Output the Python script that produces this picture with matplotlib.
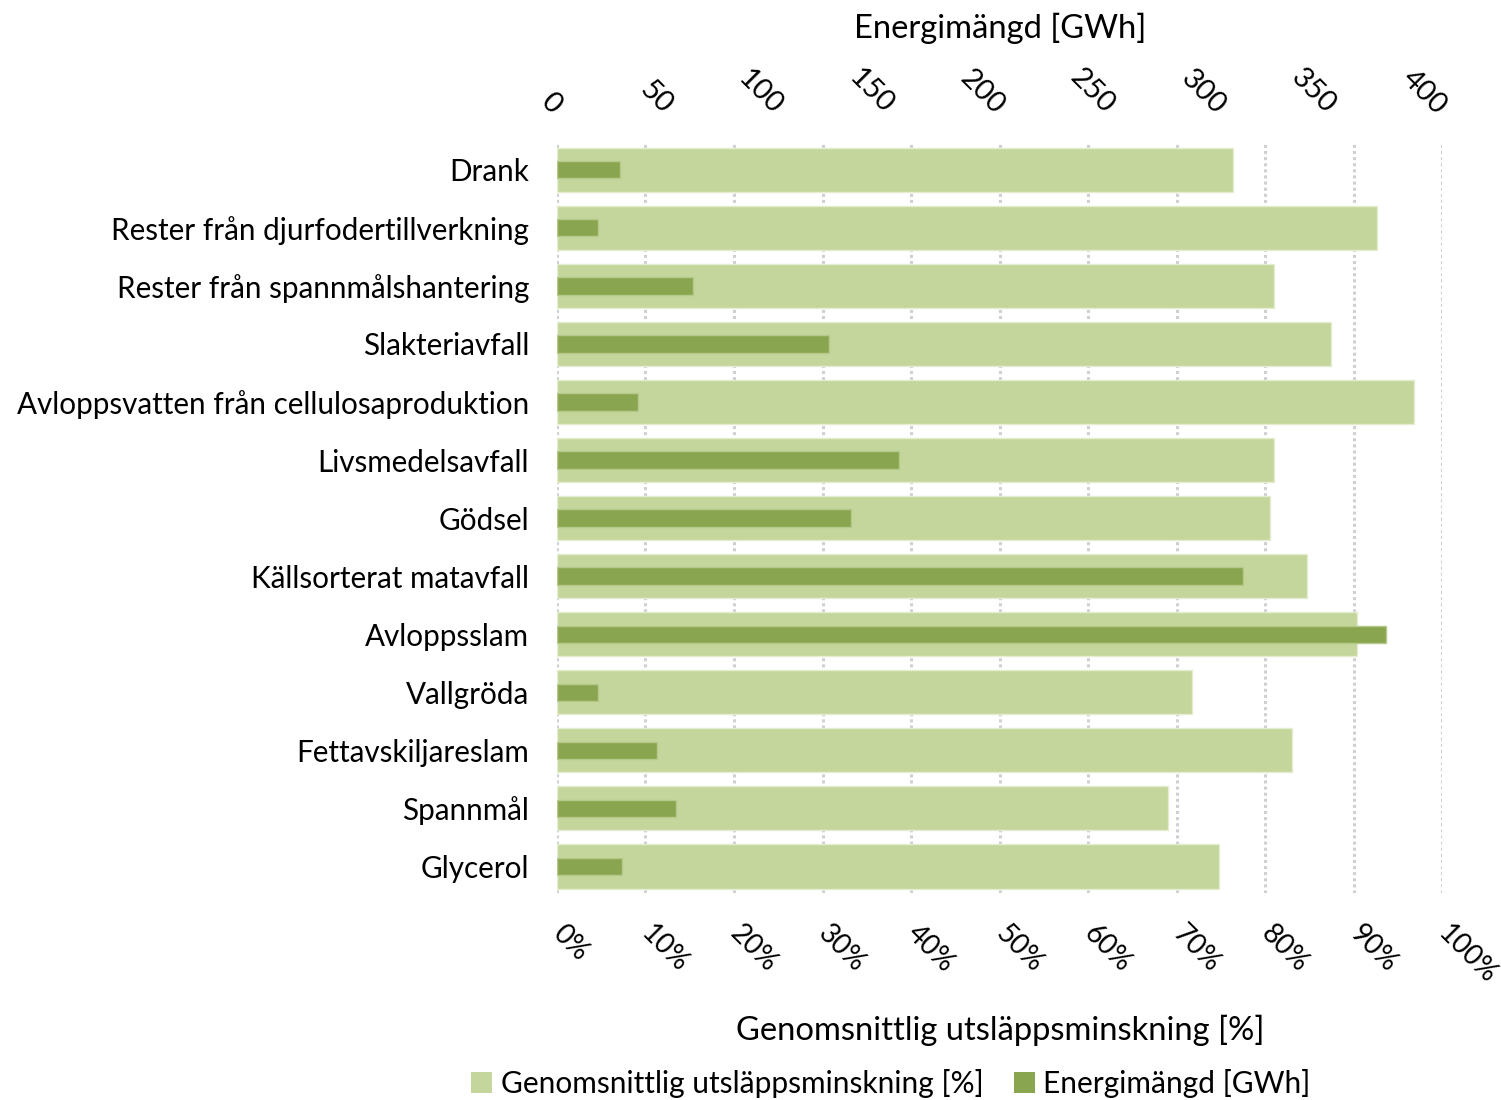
import matplotlib
matplotlib.use("Agg")
import matplotlib.pyplot as plt
from matplotlib.patches import Patch
import numpy as np

plt.rcParams['font.family'] = ['Lato', 'DejaVu Sans']

categories = ["Drank", "Rester från djurfodertillverkning", "Rester från spannmålshantering",
              "Slakteriavfall", "Avloppsvatten från cellulosaproduktion", "Livsmedelsavfall",
              "Gödsel", "Källsorterat matavfall", "Avloppsslam", "Vallgröda",
              "Fettavskiljareslam", "Spannmål", "Glycerol"]
reduction_pct = [76.4, 92.6, 81.0, 87.4, 96.8, 81.0, 80.5, 84.7, 90.4, 71.7, 83.0, 69.0, 74.8]
energy_gwh = [28.4, 18.5, 61.4, 122.8, 36.6, 154.4, 132.7, 309.7, 374.3, 18.5, 45.1, 53.7, 29.3]
pct_ticks = [0, 10, 20, 30, 40, 50, 60, 70, 80, 90, 100]
gwh_ticks = [0, 50, 100, 150, 200, 250, 300, 350, 400]

light = "#C4D69C"
dark = "#8AA54F"
FS = 21.3

fig = plt.figure(figsize=(15.01, 11.0), dpi=100)
ax = fig.add_axes([0.371, 0.188, 0.590, 0.682])
y = np.arange(len(categories))

ax.barh(y, reduction_pct, height=0.76, color=light, edgecolor="#E4EDD0", linewidth=1, zorder=2)
ax.set_xlim(0, 100)
ax.set_ylim(12.46, -0.46)
ax.set_yticks(y)
ax.set_yticklabels(categories, fontsize=FS)
ax.set_xticks(pct_ticks)
ax.set_xticklabels([f"{t}%" for t in pct_ticks], fontsize=20, rotation=-45,
                   ha='left', va='center', rotation_mode='anchor')
ax.tick_params(axis='x', length=0, pad=26)
ax.tick_params(axis='y', length=0, pad=20)
ax.grid(axis='x', color="#D0D0D0", linestyle=(0, (1, 1)), linewidth=2.2, zorder=0)
ax.set_axisbelow(True)
for s in ax.spines.values():
    s.set_visible(False)

ax2 = ax.twiny()
ax2.barh(y, energy_gwh, height=0.30, color=dark, edgecolor="#B5C98C", linewidth=1, zorder=3)
ax2.set_xlim(0, 400)
ax2.set_xticks(gwh_ticks)
ax2.set_xticklabels([str(t) for t in gwh_ticks], fontsize=21, rotation=-45,
                    ha='right', va='center', rotation_mode='anchor')
ax2.tick_params(axis='x', length=0, pad=24)
for s in ax2.spines.values():
    s.set_visible(False)

fig.text(1000 / 1501, 1 - 28 / 1100, "Energimängd [GWh]", fontsize=23.6, ha='center', va='center')
fig.text(1000 / 1501, 1 - 1030 / 1100, "Genomsnittlig utsläppsminskning [%]", fontsize=23.6,
         ha='center', va='center')

handles = [Patch(facecolor=light, edgecolor='none', label="Genomsnittlig utsläppsminskning [%]"),
           Patch(facecolor=dark, edgecolor='none', label="Energimängd [GWh]")]
fig.legend(handles=handles, loc='center', bbox_to_anchor=(891 / 1501, 1 - 1083 / 1100), ncol=2,
           frameon=False, fontsize=21.5, handlelength=0.7, handleheight=0.7,
           handletextpad=0.3, columnspacing=1.0, borderpad=0)

fig.savefig("out.png", dpi=100)
